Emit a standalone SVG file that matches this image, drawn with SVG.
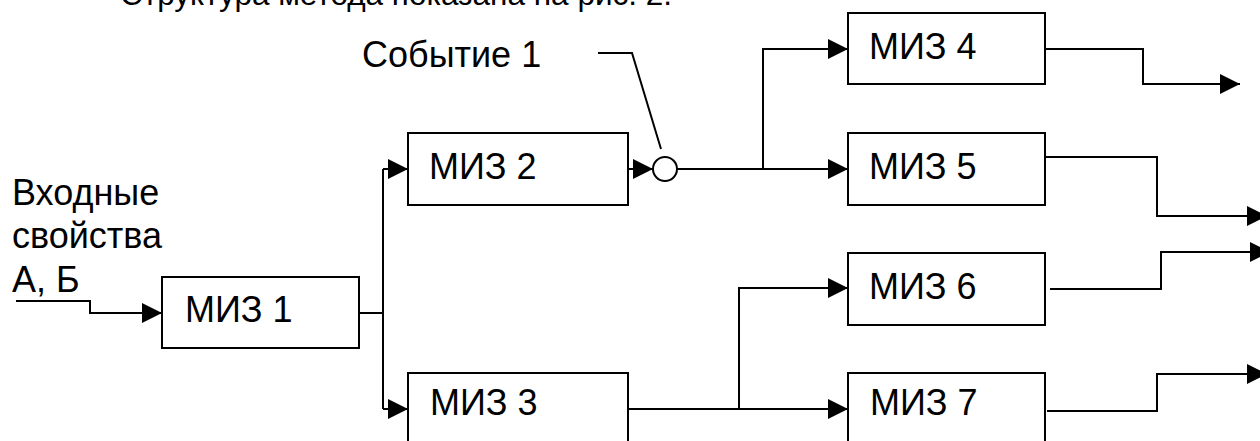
<svg xmlns="http://www.w3.org/2000/svg" width="1260" height="441" viewBox="0 0 1260 441">
<style>
text{font-family:"Liberation Sans",Arial,sans-serif;font-size:36px;fill:#000}
.box{fill:#fff;stroke:#000;stroke-width:2}
.ln{fill:none;stroke:#000;stroke-width:2}
</style>
<defs>
<marker id="ah" viewBox="0 0 20 20" refX="20" refY="10" markerWidth="20" markerHeight="20" markerUnits="userSpaceOnUse" orient="auto">
<path d="M0,0 L20,10 L0,20 Z" fill="#000"/>
</marker>
</defs>
<rect width="1260" height="441" fill="#fff"/>
<text x="120" y="5" style="font-size:31.5px">Структура метода показана на рис. 2.</text>
<g id="labels">
<text x="12" y="205">Входные</text>
<text x="12" y="248">свойства</text>
<text x="12" y="292">А, Б</text>
<text x="362" y="67">Событие 1</text>
</g>
<g id="connectors">
<path class="ln" d="M16,301 H90 V313 H162" marker-end="url(#ah)"/>
<path class="ln" d="M359,313 H383"/>
<path class="ln" d="M383,169 V409"/>
<path class="ln" d="M383,169 H408" marker-end="url(#ah)"/>
<path class="ln" d="M383,409 H408" marker-end="url(#ah)"/>
<path class="ln" d="M628,169 H653" marker-end="url(#ah)"/>
<circle cx="665" cy="169" r="12" fill="#fff" stroke="#000" stroke-width="2"/>
<path class="ln" d="M677,169 H848" marker-end="url(#ah)"/>
<path class="ln" d="M763,169 V49 H848" marker-end="url(#ah)"/>
<path class="ln" d="M598,53 H632 L661,149"/>
<path class="ln" d="M628,409 H848" marker-end="url(#ah)"/>
<path class="ln" d="M739,409 V288 H848" marker-end="url(#ah)"/>
<path class="ln" d="M1045,49 H1143 V84 H1240" marker-end="url(#ah)"/>
<path class="ln" d="M1045,157 H1157 V216 H1267" marker-end="url(#ah)"/>
<path class="ln" d="M1050,289 H1161 V252 H1270" marker-end="url(#ah)"/>
<path class="ln" d="M1047,411 H1157 V374 H1267" marker-end="url(#ah)"/>
</g>
<g id="miz1"><rect class="box" x="162" y="277" width="197" height="71"/><text x="185" y="322">МИЗ 1</text></g>
<g id="miz2"><rect class="box" x="408" y="133" width="220" height="72"/><text x="429" y="179">МИЗ 2</text></g>
<g id="miz3"><rect class="box" x="408" y="373" width="220" height="72"/><text x="430" y="415">МИЗ 3</text></g>
<g id="miz4"><rect class="box" x="848" y="13" width="197" height="71"/><text x="869" y="59">МИЗ 4</text></g>
<g id="miz5"><rect class="box" x="848" y="133" width="197" height="72"/><text x="869" y="179">МИЗ 5</text></g>
<g id="miz6"><rect class="box" x="848" y="253" width="197" height="72"/><text x="869" y="299">МИЗ 6</text></g>
<g id="miz7"><rect class="box" x="848" y="373" width="197" height="72"/><text x="870" y="415">МИЗ 7</text></g>
</svg>
